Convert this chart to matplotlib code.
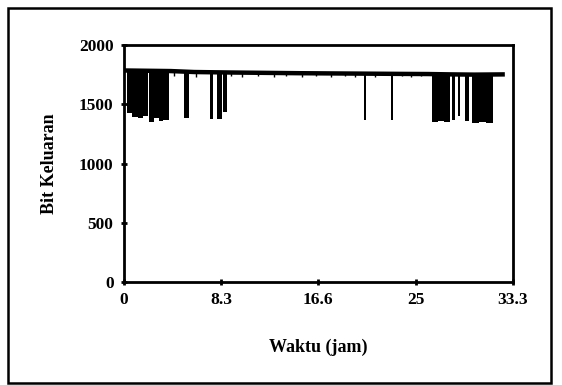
import numpy as np
import matplotlib.pyplot as plt
from matplotlib.patches import Rectangle

plt.rcParams['font.family'] = ['Liberation Serif', 'DejaVu Serif']
plt.rcParams['font.weight'] = 'bold'

# baseline of the output bits (jam, bit)
base_t = [0.0, 4.0, 6.0, 9.0, 12.0, 15.0, 18.0, 21.0, 24.0, 26.0, 28.0, 30.0, 32.6]
base_v = [1785, 1780, 1772, 1768, 1765, 1762, 1760, 1758, 1756, 1755, 1752, 1750, 1752]

# deep drops: start, end, lowest value
dip_start = [0.26, 0.70, 1.20, 1.64, 2.10, 2.54, 3.00, 3.38,
             5.10, 7.40, 7.95, 8.50, 20.55, 22.85,
             26.40, 26.92, 27.42, 28.10, 28.60, 29.20, 29.80, 30.38, 30.98]
dip_end = [0.69, 1.19, 1.63, 2.09, 2.53, 2.99, 3.37, 3.85,
           5.60, 7.65, 8.35, 8.80, 20.70, 23.00,
           26.91, 27.41, 27.90, 28.30, 28.75, 29.50, 30.37, 30.97, 31.60]
dip_low = [1425, 1395, 1380, 1400, 1350, 1385, 1355, 1370,
           1385, 1375, 1375, 1435, 1370, 1370,
           1350, 1355, 1350, 1365, 1400, 1360, 1345, 1350, 1345]

# small nicks on the baseline
nick_t = [4.3, 6.2, 9.2, 10.1, 11.5, 12.8, 13.9, 15.2, 16.4, 17.7, 18.9, 19.8, 21.5, 23.8, 24.6, 25.4]
nick_low = [1735, 1730, 1738, 1728, 1735, 1730, 1738, 1728, 1735, 1730, 1735, 1728, 1730, 1735, 1730, 1735]

fig = plt.figure(figsize=(5.62, 3.85), dpi=100)
ax = fig.add_axes([124/562, 1 - 282/385, (513 - 124)/562, (282 - 45)/385])

ax.plot(base_t, base_v, color='black', lw=3.2, solid_capstyle='butt')
top = np.interp(dip_start, base_t, base_v)
ax.bar(dip_start, top - np.array(dip_low), bottom=dip_low,
       width=np.array(dip_end) - np.array(dip_start), align='edge',
       color='black', edgecolor='none')
ax.vlines(nick_t, nick_low, np.interp(nick_t, base_t, base_v), color='black', lw=1.0)

ax.set_xlim(0, 33.3)
ax.set_ylim(0, 2000)
ax.set_xticks([0, 8.3, 16.6, 25, 33.3])
ax.set_xticklabels(['0', '8.3', '16.6', '25', '33.3'])
ax.set_yticks([0, 500, 1000, 1500, 2000])
ax.tick_params(direction='inout', length=5, width=2, labelsize=12.5, pad=5)
for s in ax.spines.values():
    s.set_linewidth(2)

ax.set_xlabel('Waktu (jam)', fontsize=13, fontweight='bold', labelpad=22)
ax.set_ylabel('Bit Keluaran', fontsize=13, fontweight='bold', labelpad=15)

fig.patches.append(Rectangle((8/562, 0.006), 543/562, 0.972, transform=fig.transFigure,
                             fill=False, edgecolor='black', lw=1.8))

plt.savefig('out.png', dpi=100)
